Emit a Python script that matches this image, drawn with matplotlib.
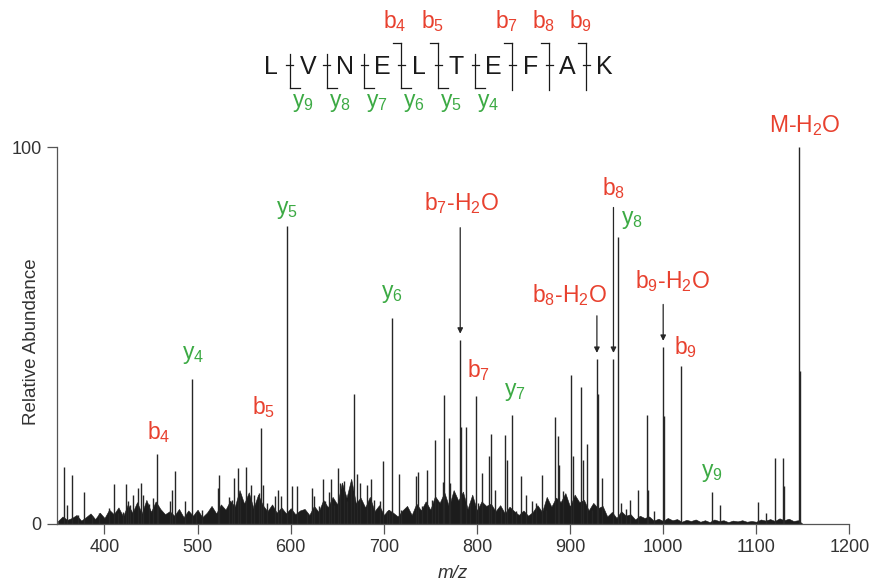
import numpy as np
import matplotlib.pyplot as plt
from matplotlib.lines import Line2D

plt.rcParams['font.family'] = ['Liberation Sans', 'DejaVu Sans']
plt.rcParams['mathtext.fontset'] = 'custom'
plt.rcParams['mathtext.rm'] = 'Liberation Sans'
plt.rcParams['mathtext.it'] = 'Liberation Sans:italic'

RED = '#e8412f'
GREEN = '#3caa44'
INK = '#262626'
AXIS = '#555555'

# peptide and the fragment ions marked on it
sequence = list('LVNELTEFAK')
b_ions = [4, 5, 7, 8, 9]
y_ions = [9, 8, 7, 6, 5, 4]

# centroid peaks (m/z, relative abundance)
peak_mz = [356.0, 359.6, 365.0, 371.4, 378.2, 386.5, 393.6, 405.0, 410.6, 414.0,
           420.0, 423.0, 425.2, 427.7, 431.0, 436.5, 439.4, 441.8, 447.5, 452.0,
           456.3, 457.2, 470.6, 472.4, 476.0, 487.0, 494.5, 498.0, 505.0, 521.4,
           523.5, 534.0, 536.5, 539.6, 543.9, 546.0, 552.2, 557.6, 560.5, 566.5,
           568.6, 570.0, 575.0, 583.3, 586.0, 590.0, 596.2, 601.9, 606.6, 618.0,
           623.4, 625.5, 630.0, 634.6, 637.0, 641.0, 643.5, 647.0, 650.7, 653.0,
           657.5, 661.0, 664.7, 667.5, 671.0, 674.0, 682.5, 686.0, 690.0, 695.5,
           699.0, 703.0, 705.5, 708.3, 716.5, 719.0, 734.5, 736.6, 741.0, 746.3,
           752.0, 754.5, 758.0, 763.5, 764.6, 770.2, 771.0, 782.1, 783.0, 788.2,
           792.8, 799.2, 801.5, 805.0, 812.5, 815.4, 819.6, 826.0, 830.4, 832.5,
           837.6, 842.0, 847.6, 853.0, 859.0, 864.0, 869.8, 874.0, 883.8, 886.6,
           888.5, 893.0, 901.3, 903.5, 911.7, 913.5, 918.8, 923.5, 928.9, 930.0,
           934.3, 946.7, 951.4, 955.0, 960.0, 964.7, 973.0, 982.6, 983.5, 989.7,
           1000.1, 1001.2, 1018.8, 1052.0, 1061.3, 1101.4, 1110.7, 1119.7, 1128.7, 1129.5,
           1146.5, 1147.3]
peak_int = [15.0, 5.0, 13.0, 2.5, 8.5, 2.2, 2.8, 4.2, 10.5, 2.8,
            3.3, 10.5, 6.0, 5.0, 7.8, 9.5, 11.0, 7.8, 5.4, 7.0,
            18.7, 4.6, 6.0, 9.1, 14.1, 6.0, 38.5, 3.3, 3.7, 9.6,
            13.0, 7.2, 6.3, 12.1, 14.8, 8.0, 15.0, 10.4, 7.8, 8.2,
            25.4, 10.4, 5.6, 7.3, 9.0, 7.3, 79.0, 10.0, 10.0, 2.9,
            9.5, 7.3, 4.7, 11.9, 6.0, 8.4, 11.9, 5.0, 14.8, 10.9,
            11.3, 6.0, 10.9, 34.5, 13.3, 10.9, 10.4, 11.9, 6.4, 6.0,
            16.8, 3.4, 3.8, 54.7, 13.3, 3.8, 12.8, 13.9, 4.7, 14.4,
            6.4, 22.3, 5.6, 11.1, 34.2, 22.7, 10.9, 48.9, 25.6, 25.8,
            5.6, 33.9, 5.6, 13.4, 18.0, 23.8, 9.0, 3.8, 23.6, 17.0,
            28.9, 3.4, 12.8, 7.8, 6.0, 5.6, 13.0, 3.8, 28.5, 23.4,
            15.6, 8.7, 39.5, 18.0, 36.3, 17.0, 21.2, 3.8, 43.8, 34.5,
            12.2, 43.8, 76.0, 5.6, 4.0, 6.4, 9.0, 29.0, 9.0, 3.4,
            47.0, 28.7, 42.0, 8.5, 5.0, 5.9, 2.9, 17.4, 17.4, 10.0,
            100.0, 40.7]

# dense low-level background ("grass"), sampled every 5 m/z from 350
grass_int = [0.8, 2.0, 1.1, 1.6, 2.4, 0.9, 1.8, 2.8, 1.3, 3.0,
             1.6, 3.8, 2.6, 4.4, 2.0, 5.2, 3.0, 5.8, 2.8, 6.4,
             3.2, 6.0, 4.0, 2.6, 3.4, 2.2, 4.0, 1.8, 3.6, 2.2,
             3.8, 1.8, 3.0, 4.8, 2.8, 5.2, 3.8, 6.2, 4.6, 9.0,
             5.4, 8.4, 4.2, 7.8, 5.0, 3.4, 5.2, 3.0, 4.4, 2.8,
             4.2, 2.6, 3.6, 4.0, 2.4, 4.8, 3.2, 6.4, 4.4, 7.2,
             5.2, 11.0, 7.0, 12.0, 5.5, 7.0, 4.4, 7.2, 3.4, 5.0,
             2.4, 3.8, 3.0, 2.0, 3.6, 4.8, 2.4, 5.4, 3.6, 6.0,
             3.8, 7.4, 5.6, 8.4, 4.6, 9.0, 6.2, 8.6, 4.0, 7.8,
             3.6, 6.0, 4.8, 5.4, 3.4, 5.0, 2.8, 4.6, 3.4, 2.4,
             3.6, 2.2, 3.2, 5.0, 3.2, 7.2, 4.6, 7.0, 5.8, 8.2,
             4.6, 7.8, 5.8, 6.4, 3.6, 5.6, 4.2, 4.8, 2.0, 3.2,
             1.6, 3.4, 2.2, 2.6, 1.2, 2.2, 1.6, 2.0, 0.9, 1.4,
             0.8, 1.6, 1.0, 1.3, 0.6, 1.1, 0.8, 1.2, 0.6, 1.0,
             0.5, 1.2, 0.8, 1.0, 0.5, 0.9, 0.7, 1.0, 0.6, 0.8,
             0.6, 1.2, 0.9, 1.3, 0.8, 1.5, 1.0, 1.4, 0.8, 1.0,
             0.0]
grass_mz = np.arange(350, 350 + 5 * len(grass_int), 5)

# annotated peaks
label_names = ['M-H2O', 'b4', 'y4', 'b5', 'y5', 'y6', 'b7-H2O', 'b7', 'y7',
               'b8-H2O', 'b8', 'y8', 'b9-H2O', 'b9', 'y9']
label_mz = [1146.5, 456.3, 494.5, 568.6, 596.2, 708.3, 782.1, 799.2, 837.6,
            928.9, 946.7, 951.4, 1000.1, 1018.8, 1052.0]


def pretty(name):
    out = ''
    for ch in name:
        if ch.isdigit():
            out += r'$\mathregular{_%s}$' % ch
        else:
            out += ch
    return out


fig = plt.figure(figsize=(8.71, 5.84), dpi=100)
W, H = 871.0, 584.0
ax = fig.add_axes([57 / W, 1 - 524 / H, (849.3 - 57) / W, (524 - 147) / H])

ax.fill_between(grass_mz, 0, grass_int, color='#1c1c1c', lw=0.4)
ax.vlines(peak_mz, 0, peak_int, color=INK, lw=1.0)

ax.set_xlim(349, 1200)
ax.set_ylim(0, 100)
ax.spines[['top', 'right']].set_visible(False)
for s in ['left', 'bottom']:
    ax.spines[s].set_color(AXIS)
    ax.spines[s].set_linewidth(0.9)
ax.set_xticks(range(400, 1201, 100))
ax.set_yticks([0, 100])
ax.tick_params(direction='out', length=7, width=0.9, color=AXIS,
               labelsize=13, labelcolor='#333333', pad=4)

ax.set_xlabel('m/z', fontsize=13.5, style='italic', color='#333333')
ax.xaxis.label.set_va('center')
ax.xaxis.set_label_coords(0.5, -(574 - 524) / 377)
ax.set_ylabel('Relative Abundance', fontsize=13.5, color='#333333')
ax.yaxis.label.set_va('center')
ax.yaxis.set_label_coords(-0.032, 0.484)

# label placement: (dx pt, dy pt above peak top, ha, arrow start pt or None)
place = {
    'M-H2O': (3.6, 10.8, 'center', None),
    'b4': (1.2, 10.4, 'center', None),
    'y4': (0.7, 14.4, 'center', None),
    'b5': (1.5, 10.0, 'center', None),
    'y5': (0.0, 8.6, 'center', None),
    'y6': (0.0, 14.4, 'center', None),
    'b7-H2O': (1.0, 93.0, 'center', 80.6),
    'b7': (1.5, 13.7, 'center', None),
    'y7': (2.0, 13.7, 'center', None),
    'b8-H2O': (-20.0, 40.8, 'center', 31.0),
    'b8': (0.0, 118.0, 'center', 109.0),
    'y8': (2.2, 9.4, 'left', None),
    'b9-H2O': (6.5, 42.0, 'center', 30.5),
    'b9': (3.3, 8.0, 'center', None),
    'y9': (0.0, 11.0, 'center', None),
}

for name, mz in zip(label_names, label_mz):
    h = peak_int[peak_mz.index(mz)]
    dx, dy, ha, arrow = place[name]
    color = GREEN if name.startswith('y') else RED
    ax.annotate(pretty(name), xy=(mz, h), xytext=(dx, dy),
                textcoords='offset points', ha=ha, va='baseline',
                color=color, fontsize=16.5, annotation_clip=False)
    if arrow is not None:
        ax.annotate('', xy=(mz, h), xytext=(0, arrow),
                    textcoords='offset points', annotation_clip=False,
                    arrowprops=dict(arrowstyle='-|>', color=INK, lw=0.9,
                                    shrinkA=0, shrinkB=4.3, mutation_scale=8))


# sequence header with fragmentation brackets (pixel layout)
def fx(x):
    return x / W


def fy(y):
    return 1 - y / H


def seg(x0, y0, x1, y1):
    fig.add_artist(Line2D([fx(x0), fx(x1)], [fy(y0), fy(y1)],
                          color='#1a1a1a', lw=0.9))


x_first = 271.0
step = 37.08
for k, aa in enumerate(sequence):
    fig.text(fx(x_first + k * step), fy(73.5), aa, ha='center',
             va='baseline', fontsize=18, color='#1a1a1a')

n = len(sequence)
for i in range(1, n):
    xs = x_first + (i - 0.5) * step + 0.3
    has_b = i in b_ions
    has_y = (n - i) in y_ions
    top = 43 if has_b else 54
    bot = 88 if has_y else 90
    seg(xs, top, xs, bot)
    seg(xs - 3.5, 64.5, xs + 3.5, 64.5)
    if has_b:
        seg(xs - 8, top, xs, top)
        fig.text(fx(xs - 6), fy(28.3), pretty('b%d' % i), ha='center',
                 va='baseline', fontsize=16.5, color=RED)
    if has_y:
        seg(xs, bot, xs + 10, bot)
        fig.text(fx(xs + 13), fy(107.5), pretty('y%d' % (n - i)), ha='center',
                 va='baseline', fontsize=16.5, color=GREEN)

fig.savefig('out.png', dpi=100)
